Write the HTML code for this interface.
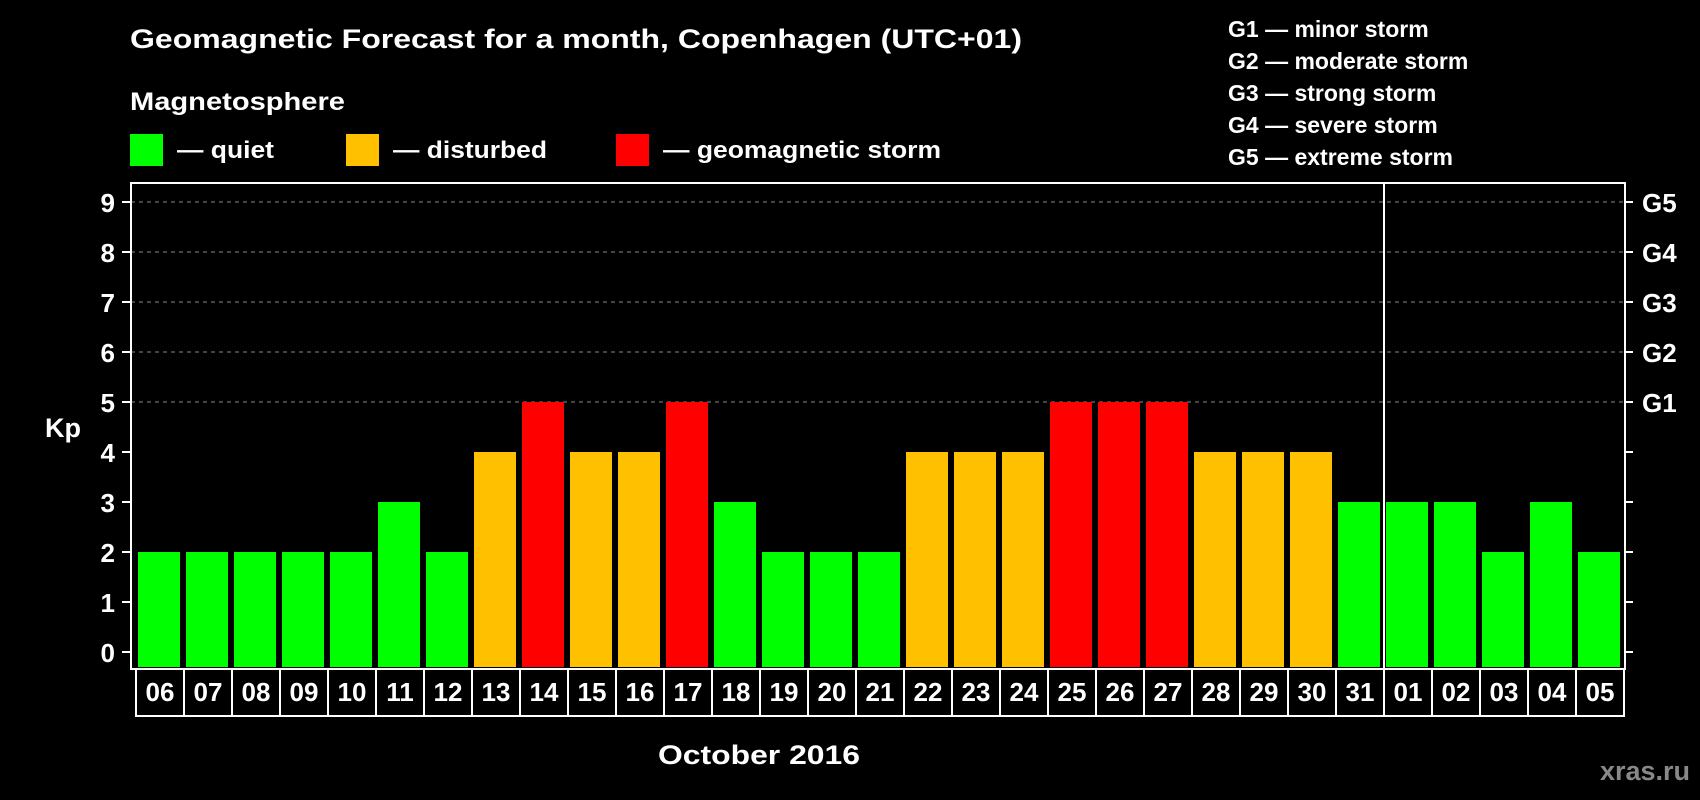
<!DOCTYPE html>
<html><head><meta charset="utf-8"><style>
html,body{margin:0;padding:0;background:#000;}
svg{display:block;font-family:"Liberation Sans",Arial,sans-serif;font-weight:bold;}
</style></head><body>
<svg id="chart" width="1700" height="800" viewBox="0 0 1700 800" xmlns="http://www.w3.org/2000/svg">
<rect width="1700" height="800" fill="#000"/>
<text x="130" y="48" fill="#fff" font-size="27" textLength="892" lengthAdjust="spacingAndGlyphs">Geomagnetic Forecast for a month, Copenhagen (UTC+01)</text>
<text x="130" y="110" fill="#fff" font-size="25" textLength="215" lengthAdjust="spacingAndGlyphs">Magnetosphere</text>
<g>
<rect x="130" y="134" width="33" height="32" fill="#00ff00"/>
<text x="177" y="158" fill="#fff" font-size="24" textLength="97" lengthAdjust="spacingAndGlyphs">— quiet</text></g>
<g>
<rect x="346" y="134" width="33" height="32" fill="#ffc000"/>
<text x="393" y="158" fill="#fff" font-size="24" textLength="154" lengthAdjust="spacingAndGlyphs">— disturbed</text></g>
<g>
<rect x="616" y="134" width="33" height="32" fill="#ff0000"/>
<text x="663" y="158" fill="#fff" font-size="24" textLength="278" lengthAdjust="spacingAndGlyphs">— geomagnetic storm</text></g>
<g font-size="23" fill="#fff">
<text x="1228" y="37">G1 — minor storm</text>
<text x="1228" y="69">G2 — moderate storm</text>
<text x="1228" y="101">G3 — strong storm</text>
<text x="1228" y="133">G4 — severe storm</text>
<text x="1228" y="165">G5 — extreme storm</text>
</g>
<g id="grid"></g>
<g id="bars"></g>
<g id="axes"></g>
<text x="63" y="437" fill="#fff" font-size="27" text-anchor="middle">Kp</text>
<text x="759" y="764" fill="#fff" font-size="27" text-anchor="middle" textLength="202" lengthAdjust="spacingAndGlyphs">October 2016</text>
<text x="1690" y="780" fill="#888" font-size="27" text-anchor="end">xras.ru</text>
</svg>
<script>
const days = ["06","07","08","09","10","11","12","13","14","15","16","17","18","19","20","21","22","23","24","25","26","27","28","29","30","31","01","02","03","04","05"];
const kpValues = [2,2,2,2,2,3,2,4,5,4,4,5,3,2,2,2,4,4,4,5,5,5,4,4,4,3,3,3,2,3,2];
const yTicks = [0,1,2,3,4,5,6,7,8,9];
const gLabels = ["G1","G2","G3","G4","G5"];
const gLevels = [5,6,7,8,9];
const monthBreakIndex = 26;

const NS = "http://www.w3.org/2000/svg";
const plotL = 131, plotR = 1625, plotT = 183, plotB = 669;
const x0 = 136, slot = 48;
function xScale(i){ return x0 + i*slot; }
function yScale(v){ return 652 - 50*v; }
function mk(tag, attrs, parent){
  const e = document.createElementNS(NS, tag);
  for (const k in attrs) e.setAttribute(k, attrs[k]);
  parent.appendChild(e);
  return e;
}
const grid = document.getElementById('grid');
const bars = document.getElementById('bars');
const axes = document.getElementById('axes');

gLevels.forEach((v, i) => {
  const l = mk('line', {x1: plotL, x2: plotR, y1: yScale(v), y2: yScale(v), stroke: '#888', 'stroke-width': 1, 'stroke-dasharray': '4,4'}, grid);
  
  
  const t = mk('text', {x: 1642, y: yScale(v) + 10, fill: '#fff', 'font-size': 26}, axes);
  t.textContent = gLabels[i];
  
  
});

kpValues.forEach((v, i) => {
  const col = v >= 5 ? '#ff0000' : (v >= 4 ? '#ffc000' : '#00ff00');
  const r = mk('rect', {x: xScale(i) + 2, y: yScale(v), width: 42, height: 667 - yScale(v), fill: col}, bars);
  
  
  const b = mk('rect', {x: xScale(i), y: plotB, width: slot, height: 47, fill: 'none', stroke: '#fff', 'stroke-width': 2}, axes);
  
  
  const t = mk('text', {x: xScale(i) + slot/2, y: 701, fill: '#fff', 'font-size': 26, 'text-anchor': 'middle'}, axes);
  t.textContent = days[i];
  
  
});

yTicks.forEach(v => {
  const tk = mk('line', {x1: 122, x2: plotL, y1: yScale(v), y2: yScale(v), stroke: '#fff', 'stroke-width': 2}, axes);
  
  
  const tr = mk('line', {x1: plotR, x2: 1633, y1: yScale(v), y2: yScale(v), stroke: '#fff', 'stroke-width': 2}, axes);
  
  
  const t = mk('text', {x: 115, y: yScale(v) + 10, fill: '#fff', 'font-size': 26, 'text-anchor': 'end'}, axes);
  t.textContent = v;
  
  
});

const frame = mk('rect', {x: plotL, y: plotT, width: plotR - plotL, height: plotB - plotT, fill: 'none', stroke: '#fff', 'stroke-width': 2}, axes);


const div = mk('line', {x1: xScale(monthBreakIndex), x2: xScale(monthBreakIndex), y1: plotT, y2: plotB, stroke: '#fff', 'stroke-width': 2}, axes);


</script>
</body></html>
